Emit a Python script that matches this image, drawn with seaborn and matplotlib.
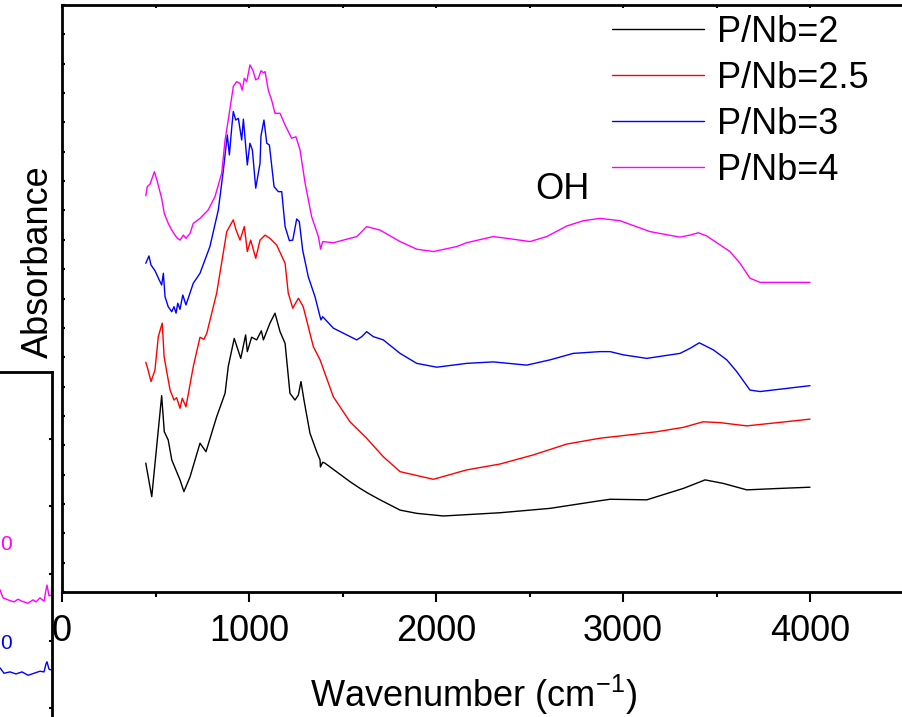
import numpy as np
import pandas as pd
import matplotlib
matplotlib.use("Agg")
import matplotlib.pyplot as plt
import seaborn as sns

# ---------------- data ----------------
labels = ["P/Nb=2", "P/Nb=2.5", "P/Nb=3", "P/Nb=4"]
colors = ["#000000", "#FF0000", "#0000FF", "#FF00FF"]

wn_2 = [448, 480, 533, 547, 568, 587, 631, 652, 685, 738, 770, 827, 872, 889, 921, 956, 982,
        991, 1014, 1041, 1066, 1077, 1112, 1139, 1166, 1193, 1219, 1246, 1264, 1278, 1294, 1326,
        1362, 1380, 1382, 1394, 1406, 1540, 1594, 1638, 1701, 1808, 1897, 2039, 2342, 2610, 2877,
        2931, 3127, 3323, 3439, 3536, 3662, 3840, 4000]
ab_2 = [4.39, 3.25, 6.69, 5.46, 5.18, 4.50, 3.82, 3.42, 3.93, 5.07, 4.78, 5.97, 6.77, 7.68, 8.64,
        7.96, 8.76, 8.19, 8.68, 8.59, 8.90, 8.59, 9.16, 9.50, 8.87, 8.47, 6.77, 6.54, 6.71, 7.17,
        6.54, 5.41, 4.78, 4.50, 4.26, 4.42, 4.39, 3.76, 3.53, 3.36, 3.14, 2.79, 2.68, 2.59, 2.70,
        2.85, 3.11, 3.16, 3.14, 3.53, 3.82, 3.70, 3.48, 3.53, 3.57]

wn_25 = [448, 458, 476, 497, 515, 536, 546, 560, 578, 599, 613, 631, 643, 663, 702, 738, 759, 774,
         827, 881, 916, 931, 952, 975, 991, 1009, 1036, 1059, 1086, 1112, 1148, 1193, 1210, 1234,
         1264, 1290, 1317, 1344, 1380, 1451, 1540, 1629, 1718, 1808, 1986, 2164, 2342, 2520, 2699,
         2877, 2948, 3180, 3323, 3429, 3519, 3662, 3840, 4000]
ab_25 = [7.83, 7.62, 7.17, 7.56, 8.70, 9.16, 8.02, 7.51, 6.88, 6.54, 6.62, 6.26, 6.60, 6.31, 7.68,
         8.68, 8.61, 8.81, 10.18, 12.28, 12.68, 12.33, 11.99, 12.45, 11.60, 11.99, 11.37, 11.99,
         12.16, 12.05, 11.82, 11.20, 10.18, 9.67, 10.01, 9.72, 9.04, 8.36, 7.91, 6.65, 5.80, 5.24,
         4.61, 4.10, 3.84, 4.16, 4.36, 4.67, 5.04, 5.24, 5.29, 5.46, 5.61, 5.80, 5.77, 5.66, 5.78,
         5.89]

wn_3 = [448, 465, 476, 497, 520, 533, 542, 551, 568, 587, 599, 610, 619, 631, 646, 663, 702, 738,
        791, 836, 863, 884, 895, 908, 916, 929, 943, 961, 970, 991, 1005, 1018, 1036, 1059, 1064,
        1080, 1095, 1109, 1134, 1157, 1175, 1193, 1216, 1234, 1255, 1269, 1287, 1317, 1353, 1380,
        1385, 1394, 1451, 1576, 1603, 1629, 1665, 1718, 1808, 1897, 2004, 2164, 2306, 2485, 2610,
        2734, 2877, 2931, 3002, 3127, 3305, 3358, 3408, 3483, 3555, 3608, 3679, 3733, 3840, 4000]
ab_3 = [11.20, 11.45, 11.14, 10.95, 10.63, 10.46, 10.86, 10.06, 9.72, 9.55, 9.72, 9.50, 9.84, 9.63,
        10.12, 9.78, 10.52, 10.86, 11.77, 13.02, 14.38, 15.57, 14.89, 15.85, 16.37, 16.08, 16.14,
        15.40, 16.11, 14.55, 15.29, 15.06, 13.76, 14.61, 15.54, 16.08, 15.29, 15.23, 13.81, 13.64,
        13.64, 12.45, 11.97, 11.99, 12.71, 12.62, 11.65, 10.74, 10.06, 9.38, 9.27, 9.38, 8.99,
        8.59, 8.70, 8.87, 8.70, 8.59, 8.13, 7.79, 7.66, 7.79, 7.84, 7.73, 7.91, 8.13, 8.19, 8.19,
        8.08, 7.96, 8.13, 8.30, 8.49, 8.25, 7.91, 7.51, 6.88, 6.83, 6.91, 7.03]

wn_4 = [448, 456, 471, 494, 510, 533, 547, 568, 587, 604, 617, 631, 649, 663, 685, 702, 738, 782,
        818, 854, 872, 889, 908, 916, 934, 952, 964, 975, 988, 1005, 1020, 1036, 1050, 1064, 1077,
        1086, 1103, 1121, 1139, 1166, 1193, 1228, 1251, 1273, 1300, 1335, 1371, 1383, 1394, 1451,
        1576, 1594, 1629, 1701, 1808, 1897, 1986, 2111, 2164, 2306, 2378, 2503, 2592, 2699, 2788,
        2877, 2984, 3144, 3305, 3358, 3403, 3448, 3572, 3626, 3679, 3733, 4000]
ab_4 = [13.50, 13.81, 13.90, 14.32, 13.98, 13.41, 12.90, 12.56, 12.33, 12.16, 12.05, 11.99, 12.16,
        12.05, 12.22, 12.56, 12.73, 13.02, 13.47, 14.27, 15.40, 16.08, 16.88, 17.22, 17.39, 17.33,
        17.10, 17.50, 17.39, 17.96, 17.79, 17.45, 17.50, 17.76, 17.69, 17.73, 17.10, 16.76, 16.31,
        16.31, 15.91, 15.46, 15.51, 15.06, 13.93, 12.79, 12.11, 11.68, 11.94, 11.90, 12.11, 12.22,
        12.45, 12.33, 11.94, 11.68, 11.60, 11.77, 11.90, 12.11, 12.05, 11.94, 12.11, 12.47, 12.65,
        12.73, 12.65, 12.28, 12.09, 12.16, 12.24, 12.13, 11.60, 11.20, 10.69, 10.55, 10.55]

series_wn = [wn_2, wn_25, wn_3, wn_4]
series_ab = [ab_2, ab_25, ab_3, ab_4]

x_ticks = [0, 1000, 2000, 3000, 4000]
x_minor = [500, 1500, 2500, 3500]
y_ticks = list(range(0, 21))
annotation_text = "OH"
annotation_pos = (2674, 13.7)

# fragment of a neighbouring panel cut at the left edge
frag_x = [0, 0.058, 0.155, 0.271, 0.348, 0.426, 0.542, 0.638, 0.696, 0.774, 0.851, 0.890, 0.909,
          0.948, 0.986]
frag_mag = [1.76, 1.64, 1.61, 1.58, 1.62, 1.59, 1.56, 1.61, 1.58, 1.64, 1.59, 1.76, 1.83, 1.67, 1.68]
frag_xb = [0, 0.077, 0.193, 0.309, 0.426, 0.542, 0.658, 0.774, 0.851, 0.890, 0.909, 0.948, 0.986]
frag_blue = [0.60, 0.52, 0.54, 0.51, 0.54, 0.49, 0.52, 0.55, 0.54, 0.66, 0.69, 0.58, 0.57]

# ---------------- style ----------------
sns.set_style("ticks")
plt.rcParams["font.family"] = ["Liberation Sans", "DejaVu Sans"]
plt.rcParams["mathtext.fontset"] = "custom"
plt.rcParams["mathtext.rm"] = "Liberation Sans"
plt.rcParams["mathtext.it"] = "Liberation Sans:italic"
plt.rcParams["mathtext.bf"] = "Liberation Sans:bold"
for k in ["text.color", "axes.labelcolor", "xtick.color", "ytick.color", "axes.edgecolor"]:
    plt.rcParams[k] = "black"

FS = 26
W, H = 902, 717
fig = plt.figure(figsize=(W / 100, H / 100), dpi=100)

ax = fig.add_axes([62 / W, (H - 592) / H, (903.5 - 62) / W, 587 / H])

for wn, ab, lab, col in zip(series_wn, series_ab, labels, colors):
    df = pd.DataFrame({"wn": wn, "ab": ab})
    sns.lineplot(data=df, x="wn", y="ab", ax=ax, color=col, label=lab,
                 sort=False, estimator=None, linewidth=1.0)

ax.set_xlim(0, 4500)
ax.set_ylim(0, 20)
ax.set_xticks(x_ticks)
ax.set_xticks(x_minor, minor=True)
ax.set_xticklabels([str(t) for t in x_ticks], fontsize=FS)
ax.set_yticks(y_ticks)
ax.set_yticklabels([])
ax.set_xlabel("")
ax.set_ylabel("")

for s in ax.spines.values():
    s.set_linewidth(2.0)
    s.set_visible(True)
    s.set_color("black")

ax.tick_params(axis="x", which="major", direction="out", length=7, width=1.5, pad=9,
               top=True, labeltop=False, colors="black")
ax.tick_params(axis="x", which="minor", direction="out", length=3.5, width=1.5, top=True,
               colors="black")
ax.tick_params(axis="y", which="major", direction="in", length=2.5, width=1.5, colors="black")

# top ticks point inward
for t in ax.xaxis.get_major_ticks() + ax.xaxis.get_minor_ticks():
    t.tick2line.set_marker(matplotlib.lines.TICKDOWN)
    t.tick2line.set_markersize(2.5)

ax.text(annotation_pos[0], annotation_pos[1], annotation_text, fontsize=FS,
        ha="center", va="center", color="black")

leg = ax.legend(loc="upper left", bbox_to_anchor=(612 / W, 1 - 15 / H),
                bbox_transform=fig.transFigure, frameon=False, fontsize=FS,
                handlelength=2.54, handletextpad=0.37, labelspacing=0.3,
                borderpad=0, borderaxespad=0)
for lh in leg.get_lines():
    lh.set_linewidth(1.0)
for tx in leg.get_texts():
    tx.set_color("black")

fig.text(310 / W, 1 - 706.7 / H, r"Wavenumber (cm$^{\mathregular{-1}}$)", fontsize=FS,
         ha="left", va="baseline", color="black")
fig.text(48 / W, 1 - 261.5 / H, "Absorbance", fontsize=FS, rotation=90,
         rotation_mode="anchor", ha="center", va="baseline", color="black")

# ---------------- neighbouring panel fragment ----------------
fr = fig.add_axes([0, 0, 51.7 / W, 345.3 / H])
fr.plot(frag_x, frag_mag, color="#FF00FF", lw=1.0)
fr.plot(frag_xb, frag_blue, color="#0000FF", lw=1.0)
fr.set_xlim(0, 1)
fr.set_ylim(-0.13, 5)
fr.spines["left"].set_visible(False)
fr.spines["bottom"].set_visible(False)
fr.spines["top"].set_linewidth(2.0)
fr.spines["right"].set_linewidth(2.0)
fr.spines["top"].set_color("black")
fr.spines["right"].set_color("black")
fr.set_xticks([])
fr.yaxis.tick_right()
fr.set_yticks([0, 1, 2, 3, 4])
fr.set_yticklabels([])
fr.tick_params(axis="y", direction="in", length=2.5, width=1.5, colors="black")
fr.text(0.12, 2.44, "0", color="#FF00FF", fontsize=15, ha="center", va="center")
fr.text(0.12, 0.955, "0", color="#0000FF", fontsize=15, ha="center", va="center")

fig.savefig("out.png", dpi=100)
